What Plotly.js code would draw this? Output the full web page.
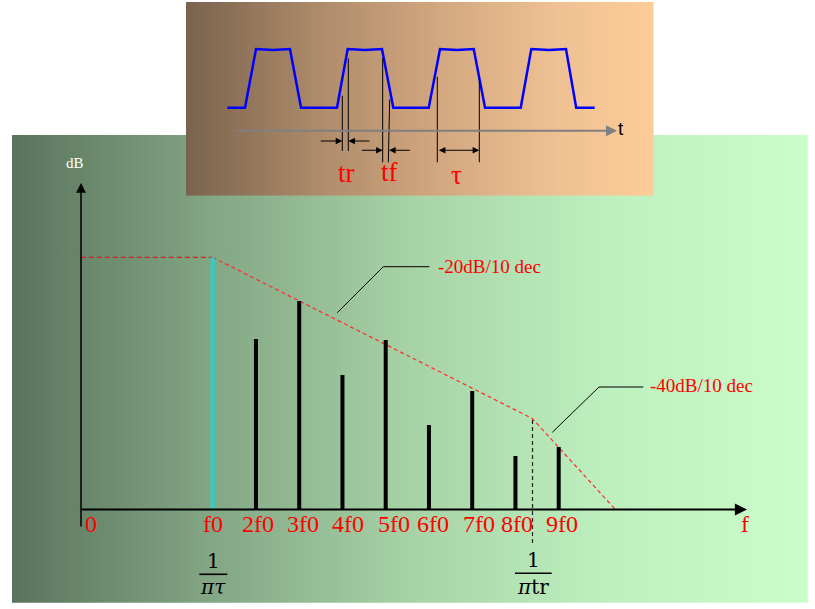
<!DOCTYPE html>
<html><head><meta charset="utf-8">
<script src="https://cdn.plot.ly/plotly-3.0.1.min.js"></script>
<style>html,body{margin:0;padding:0;background:#fff;} #chart{width:815px;height:609px;}</style>
</head><body><div id="chart"></div>
<script>
// ---------------- data (schematic spectrum) ----------------
const harmonics  = [1, 2, 3, 4, 5, 6, 7, 8, 9];                 // multiples of f0
const amplitudes = [251.7, 170, 208, 134, 169, 84, 118, 53, 62]; // dB (arbitrary units)
const tickLabels = ['0', 'f0', '2f0', '3f0', '4f0', '5f0', '6f0', '7f0', '8f0', '9f0', 'f'];
const tickAt     = [-1.81, 1.01, 2.04, 3.08, 4.12, 5.19, 6.09, 7.16, 8.04, 9.08, 13.3];
const envFlatF   = [-2.05, 1];
const envFlatDb  = [251.7, 251.7];
const envSlopeF  = [1, 8.39, 10.3];
const envSlopeDb = [251.7, 90.5, 0];
const slopeLabels = ['-20dB/10 dec', '-40dB/10 dec'];
// trapezoidal pulse train (time units, normalised level)
const waveT = [-1.92, 0, 1.2, 3.04, 4.89, 6.09, 10.0, 11.16, 13.04, 14.89, 16.12, 19.97,
               21.2, 23.04, 24.86, 26.09, 29.97, 31.12, 33.04, 34.89, 36.0, 38.01];
const waveV = [0, 0, 1, 0.985, 1, 0, 0, 1, 0.985, 1, 0, 0, 1, 0.985, 1, 0, 0, 1, 0.985, 1, 0, 0];

// ---------------- geometry helpers ----------------
const W = 815, H = 609;
const X = px => px / W, Y = py => 1 - py / H;              // paper coords
const nOf = px => 1 + (px - 212.7) / 43.25;                  // main x axis
const dbOf = py => 509 - py;                                 // main y axis
const tOf = px => (px - 245) / 9.2;                          // inset x axis
const vOf = py => (107.7 - py) / 58.7;                       // inset y axis

const serif = 'Liberation Serif, Times New Roman, serif';
const RED = '#ff0000';

const traces = [];
// main green background
traces.push({
  type: 'scatter', mode: 'lines', xaxis: 'x', yaxis: 'y', hoverinfo: 'skip',
  x: [nOf(12), nOf(807.7), nOf(807.7), nOf(12), nOf(12)],
  y: [dbOf(135), dbOf(135), dbOf(602.7), dbOf(602.7), dbOf(135)],
  fill: 'toself', line: {width: 0}, fillcolor: '#a6d3a6',
  fillgradient: {type: 'horizontal', colorscale: [
    [0, '#5a745c'], [0.25, '#83a684'], [0.5, '#a7d2a6'], [0.75, '#bef0bf'], [1, '#cafdca']]}
});
// envelope
traces.push({type: 'scatter', mode: 'lines', xaxis: 'x', yaxis: 'y', hoverinfo: 'skip',
  x: envFlatF, y: envFlatDb, line: {color: '#d42020', width: 1.2, dash: '5px,3px'}});
traces.push({type: 'scatter', mode: 'lines', xaxis: 'x', yaxis: 'y', hoverinfo: 'skip',
  x: envSlopeF, y: envSlopeDb, line: {color: '#ff2a2a', width: 1.2, dash: '4px,3px'}});
// spectral lines (stems from 0 dB up to each amplitude)
function stems(idx) {
  const xs = [], ys = [];
  idx.forEach(i => { xs.push(harmonics[i], harmonics[i], null); ys.push(0, amplitudes[i], null); });
  return {xs, ys};
}
const fund = stems([0]);
const rest = stems(harmonics.map((h, i) => i).slice(1));
traces.push({type: 'scatter', mode: 'lines', xaxis: 'x', yaxis: 'y', hoverinfo: 'skip',
  x: fund.xs, y: fund.ys, line: {color: '#2fcccc', width: 4}});
traces.push({type: 'scatter', mode: 'lines', xaxis: 'x', yaxis: 'y', hoverinfo: 'skip',
  x: rest.xs, y: rest.ys, line: {color: '#000000', width: 4}});

// inset background
traces.push({
  type: 'scatter', mode: 'lines', xaxis: 'x2', yaxis: 'y2', hoverinfo: 'skip',
  x: [tOf(186), tOf(653.7), tOf(653.7), tOf(186), tOf(186)],
  y: [vOf(2), vOf(2), vOf(195.7), vOf(195.7), vOf(2)],
  fill: 'toself', line: {width: 0}, fillcolor: '#d0a47c',
  fillgradient: {type: 'horizontal', colorscale: [
    [0, '#7a634e'], [0.3, '#b08d6c'], [0.55, '#d4a880'], [0.8, '#efc193'], [1, '#fdcc98']]}
});
// pulse train
traces.push({type: 'scatter', mode: 'lines', xaxis: 'x2', yaxis: 'y2', hoverinfo: 'skip',
  x: waveT, y: waveV, line: {color: '#0000ff', width: 2.5}});

// ---------------- shapes ----------------
const shapes = [];
function seg(x0, y0, x1, y1, color, width, dash) {
  shapes.push({type: 'line', xref: 'paper', yref: 'paper', layer: 'above',
    x0: X(x0), y0: Y(y0), x1: X(x1), y1: Y(y1),
    line: {color: color || '#000', width: width || 1, dash: dash || 'solid'}});
}
// leader lines
seg(337.3, 312.7, 383.3, 266.7); seg(383.3, 266.7, 429.3, 266.7);
seg(552.3, 432.3, 599, 387); seg(599, 387, 643.3, 387);
// 1/(pi tr) dashed marker
seg(532.5, 420, 532.5, 544, '#222', 1.2, '4px,3px');
// fraction bars
seg(199.3, 574.3, 227.3, 574.3, '#000', 1.6);
seg(515, 573.3, 551.7, 573.3, '#000', 1.6);
// inset marker lines
seg(342.3, 95.7, 342.3, 151); seg(348.3, 58.3, 348.3, 151);
seg(382.7, 58.3, 382.7, 162.3); seg(389.7, 99.3, 388.3, 162.3);
seg(437.3, 76.7, 437.3, 162.3); seg(479.3, 77, 479.3, 162.3);

// ---------------- annotations ----------------
const ann = [];
function arrow(tx, ty, sx, sy, color, width, size, side) {
  ann.push({xref: 'paper', yref: 'paper', x: X(tx), y: Y(ty), ax: sx - tx, ay: sy - ty,
    text: '', showarrow: true, arrowhead: 2, arrowsize: size || 1, arrowwidth: width || 1,
    arrowcolor: color || '#000', arrowside: side || 'end', standoff: 0, startstandoff: 0});
}
function txt(x, y, s, size, color, xanchor, family) {
  ann.push({xref: 'paper', yref: 'paper', x: X(x), y: Y(y), text: s, showarrow: false,
    xanchor: xanchor || 'center', yanchor: 'middle',
    font: {family: family || serif, size: size, color: color}});
}
// axes of the spectrum
arrow(81, 183, 81, 528, '#000', 1.5, 1.3);
arrow(747, 509.5, 80, 509.5, '#000', 2.2, 1.1);
txt(75, 163, 'dB', 15, '#ffffff');
// frequency tick labels
tickLabels.forEach((lab, i) => {
  ann.push({xref: 'x', yref: 'paper', x: tickAt[i], y: Y(524), text: lab, showarrow: false,
    xanchor: 'center', yanchor: 'middle', font: {family: serif, size: 24, color: RED}});
});
// slope labels
txt(436, 266.7, slopeLabels[0], 19, RED, 'left');
txt(647.7, 385, slopeLabels[1], 19, RED, 'left');
// fractions
const mathF = 'DejaVu Serif, serif';
txt(213.3, 561, '1', 20, '#000', 'center', mathF);
txt(213.3, 587, '<i>πτ</i>', 20, '#000', 'center', mathF);
txt(533.3, 560, '1', 20, '#000', 'center', mathF);
txt(533.3, 587, '<i>π</i>tr', 20, '#000', 'center', mathF);
// inset: time axis
arrow(617, 130.7, 234.3, 130.7, '#808080', 2, 1.1);
txt(621, 128.5, 't', 19, '#000', 'center', 'Liberation Sans, Arial, sans-serif');
// inset: rise / fall / width arrows
arrow(342.3, 141, 319.3, 141, '#000', 1.1, 1.2);
arrow(348.3, 141, 371, 141, '#000', 1.1, 1.2);
arrow(382.7, 150.3, 360.3, 150.3, '#000', 1.1, 1.2);
arrow(389, 150.3, 411.3, 150.3, '#000', 1.1, 1.2);
arrow(479.3, 150.3, 437.3, 150.3, '#000', 1.1, 1.2, 'end+start');
txt(346, 173, 'tr', 27, RED);
txt(389.7, 172, 'tf', 27, RED);
txt(456, 175, 'τ', 27, RED);

const hidden = {showgrid: false, zeroline: false, showticklabels: false, showline: false,
  ticks: '', fixedrange: true};
const layout = {
  width: W, height: H, margin: {l: 0, r: 0, t: 0, b: 0, pad: 0},
  paper_bgcolor: '#ffffff', plot_bgcolor: 'rgba(0,0,0,0)', showlegend: false,
  xaxis: Object.assign({}, hidden, {domain: [0, 1], range: [nOf(0), nOf(W)], anchor: 'y'}),
  yaxis: Object.assign({}, hidden, {domain: [0, 1], range: [dbOf(H), dbOf(0)], anchor: 'x'}),
  xaxis2: Object.assign({}, hidden, {domain: [X(186), X(653.7)], range: [tOf(186), tOf(653.7)], anchor: 'y2'}),
  yaxis2: Object.assign({}, hidden, {domain: [Y(195.7), Y(2)], range: [vOf(195.7), vOf(2)], anchor: 'x2'}),
  shapes: shapes, annotations: ann
};
Plotly.newPlot('chart', traces, layout, {displayModeBar: false, staticPlot: true});
</script></body></html>
